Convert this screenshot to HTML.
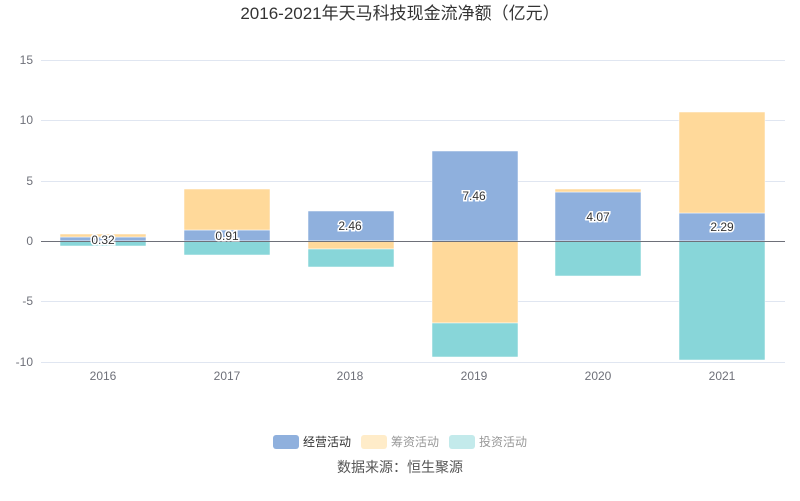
<!DOCTYPE html>
<html><head><meta charset="utf-8"><style>body{margin:0;background:#fff}svg{display:block;font-family:"Liberation Sans","Noto Sans CJK SC",sans-serif}</style></head><body>
<svg width="800" height="501" viewBox="0 0 800 501">
<text x="400" y="19" text-anchor="middle" font-size="17" fill="#333">2016-2021年天马科技现金流净额（亿元）</text>
<g stroke="#e0e6f1" stroke-width="1">
<line x1="41" x2="785" y1="60.5" y2="60.5"/><line x1="41" x2="785" y1="120.5" y2="120.5"/><line x1="41" x2="785" y1="181.5" y2="181.5"/><line x1="41" x2="785" y1="301.5" y2="301.5"/><line x1="41" x2="785" y1="362.5" y2="362.5"/>
</g>
<g font-size="12" fill="#6e7079" text-anchor="end">
<text x="33" y="64">15</text><text x="33" y="124">10</text><text x="33" y="185">5</text><text x="33" y="245">0</text><text x="33" y="305">-5</text><text x="33" y="366">-10</text>
</g>
<g font-size="12" fill="#6e7079" text-anchor="middle">
<text x="103" y="380">2016</text><text x="227" y="380">2017</text><text x="350" y="380">2018</text><text x="474" y="380">2019</text><text x="598" y="380">2020</text><text x="722" y="380">2021</text>
</g>
<g stroke="#fff" stroke-width="0.5">
<rect x="60" y="237" width="86" height="4" fill="#8fb0dd"/><rect x="60" y="234" width="86" height="3" fill="#ffd99a"/><rect x="60" y="241" width="86" height="5" fill="#88d6d9"/>
<rect x="184" y="230" width="86" height="11" fill="#8fb0dd"/><rect x="184" y="189" width="86" height="41" fill="#ffd99a"/><rect x="184" y="241" width="86" height="14" fill="#88d6d9"/>
<rect x="308" y="211" width="86" height="30" fill="#8fb0dd"/><rect x="308" y="241" width="86" height="8" fill="#ffd99a"/><rect x="308" y="249" width="86" height="18" fill="#88d6d9"/>
<rect x="432" y="151" width="86" height="90" fill="#8fb0dd"/><rect x="432" y="241" width="86" height="82" fill="#ffd99a"/><rect x="432" y="323" width="86" height="34" fill="#88d6d9"/>
<rect x="555" y="192" width="86" height="49" fill="#8fb0dd"/><rect x="555" y="189" width="86" height="3" fill="#ffd99a"/><rect x="555" y="241" width="86" height="35" fill="#88d6d9"/>
<rect x="679" y="213" width="86" height="28" fill="#8fb0dd"/><rect x="679" y="112" width="86" height="101" fill="#ffd99a"/><rect x="679" y="241" width="86" height="119" fill="#88d6d9"/>
</g>
<line x1="41" x2="785" y1="241.5" y2="241.5" stroke="#6e7079" stroke-width="1"/>
<g font-size="12" fill="#333" text-anchor="middle" stroke="#fff" stroke-width="3" paint-order="stroke">
<text x="103" y="244">0.32</text><text x="227" y="240">0.91</text><text x="350" y="230">2.46</text><text x="474" y="200">7.46</text><text x="598" y="221">4.07</text><text x="722" y="231">2.29</text>
</g>
<rect x="273" y="435" width="26" height="14" rx="3" fill="#8fb0dd"/><text x="303" y="446" font-size="12" fill="#333">经营活动</text>
<rect x="361" y="435" width="26" height="14" rx="3" fill="#ffecc9"/><text x="391" y="446" font-size="12" fill="#999">筹资活动</text>
<rect x="449" y="435" width="26" height="14" rx="3" fill="#c3eaeb"/><text x="479" y="446" font-size="12" fill="#999">投资活动</text>
<text x="400" y="472" text-anchor="middle" font-size="14" fill="#555">数据来源：恒生聚源</text>
</svg>
</body></html>
